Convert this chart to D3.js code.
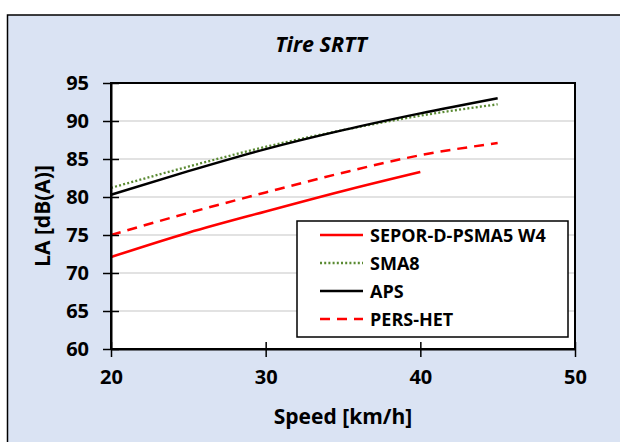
<!DOCTYPE html>
<html><head><meta charset="utf-8">
<script src="https://cdn.jsdelivr.net/npm/d3@7"></script>
<style>body{margin:0;background:#fff}</style>
</head><body>
<script>
const speeds = [20, 25, 30, 35, 40, 45];
const seporValues = [72.1, 75.3, 78.1, 80.8, 83.3, null];
const sma8Values = [81.2, 84.0, 86.6, 88.8, 90.7, 92.2];
const apsValues = [80.3, 83.4, 86.3, 88.8, 91.0, 93.0];
const persHetValues = [75.0, 77.9, 80.6, 83.2, 85.5, 87.1];
const seriesNames = ["SEPOR-D-PSMA5 W4", "SMA8", "APS", "PERS-HET"];
const xTicks = [20, 30, 40, 50];
const yTicks = [60, 65, 70, 75, 80, 85, 90, 95];

const W = 620, H = 442;
const FONT = "'Open Sans', sans-serif";
const svg = d3.select("body").append("svg").attr("width", W).attr("height", H);
svg.append("rect").attr("x", 7.5).attr("y", 15).attr("width", W + 10).attr("height", H + 10)
  .attr("fill", "#dae3f3").attr("stroke", "#000").attr("stroke-width", 1.5);

const L = 111, R = 575, T = 83, B = 349;
const x = d3.scaleLinear().domain([20, 50]).range([L, R]);
const y = d3.scaleLinear().domain([60, 95]).range([B, T]);

svg.append("rect").attr("x", L).attr("y", T).attr("width", R - L).attr("height", B - T).attr("fill", "#fff");
svg.append("g").selectAll("line").data(yTicks.filter(d => d > 60 && d < 95)).join("line")
  .attr("x1", L).attr("x2", R).attr("y1", d => y(d)).attr("y2", d => y(d))
  .attr("stroke", "#d9d9d9").attr("stroke-width", 1.5);

const series = [
  { name: seriesNames[0], values: seporValues, color: "#ff0000", dash: null, w: 2.5 },
  { name: seriesNames[1], values: sma8Values, color: "#5a8a32", dash: "2,2.2", w: 2.3 },
  { name: seriesNames[2], values: apsValues, color: "#000000", dash: null, w: 2.5 },
  { name: seriesNames[3], values: persHetValues, color: "#ff0000", dash: "10,7", w: 2.5 }
];
const line = d3.line().defined(d => d[1] != null).x(d => x(d[0])).y(d => y(d[1])).curve(d3.curveMonotoneX);
const plot = svg.append("g");
series.forEach(s => {
  plot.append("path").datum(speeds.map((v, i) => [v, s.values[i]]))
    .attr("d", line).attr("fill", "none").attr("stroke", s.color)
    .attr("stroke-width", s.w).attr("stroke-dasharray", s.dash);
});

// frame
svg.append("rect").attr("x", L).attr("y", T).attr("width", R - L).attr("height", B - T)
  .attr("fill", "none").attr("stroke", "#000").attr("stroke-width", 2);

// axes
const yAxis = d3.axisLeft(y).tickValues(yTicks).tickSizeInner(8).tickSizeOuter(0).tickPadding(14);
const gy = svg.append("g").attr("transform", `translate(${L},0)`).call(yAxis);
gy.selectAll(".tick line").attr("x2", 8).attr("x1", -8).attr("stroke-width", 1.5);
gy.select(".domain").attr("stroke-width", 2);
gy.selectAll("text").attr("font-family", FONT).attr("font-weight", "bold").attr("font-size", 20).attr("fill", "#000");

const xAxis = d3.axisBottom(x).tickValues(xTicks).tickSizeInner(8).tickSizeOuter(0).tickPadding(13);
const gx = svg.append("g").attr("transform", `translate(0,${B})`).call(xAxis);
gx.selectAll(".tick line").attr("y1", -7).attr("y2", 8).attr("stroke-width", 1.5);
gx.select(".domain").attr("stroke-width", 2);
gx.selectAll("text").attr("font-family", FONT).attr("font-weight", "bold").attr("font-size", 20).attr("fill", "#000");

// titles
svg.append("text").attr("x", 321).attr("y", 52).attr("text-anchor", "middle")
  .attr("font-family", FONT).attr("font-weight", "bold").attr("font-style", "italic").attr("font-size", 21.5)
  .text("Tire SRTT");
svg.append("text").attr("x", 343).attr("y", 424).attr("text-anchor", "middle")
  .attr("font-family", FONT).attr("font-weight", "bold").attr("font-size", 21)
  .text("Speed [km/h]");
svg.append("text").attr("transform", `translate(50,216) rotate(-90)`).attr("text-anchor", "middle")
  .attr("font-family", FONT).attr("font-weight", "bold").attr("font-size", 21)
  .text("LA [dB(A)]");

// legend
const lg = svg.append("g");
lg.append("rect").attr("x", 297).attr("y", 221).attr("width", 271).attr("height", 116)
  .attr("fill", "#fff").attr("stroke", "#000").attr("stroke-width", 1.5);
series.forEach((s, i) => {
  const yy = 235 + i * 28;
  lg.append("line").attr("x1", 320).attr("x2", 363).attr("y1", yy).attr("y2", yy)
    .attr("stroke", s.color).attr("stroke-width", s.w).attr("stroke-dasharray", s.dash);
  lg.append("text").attr("x", 370).attr("y", yy + 6.5).attr("font-family", FONT)
    .attr("font-weight", "bold").attr("font-size", 18).text(s.name);
});
</script>
</body></html>
